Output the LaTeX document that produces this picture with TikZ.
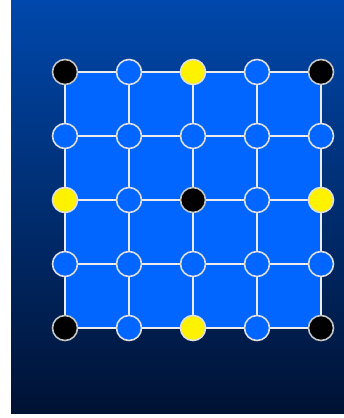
\documentclass[tikz,border=0pt]{standalone}
\begin{document}
\begin{tikzpicture}[x=1pt,y=-1pt,
  dot/.style={circle,minimum size=25pt,inner sep=0pt,line width=1.6pt,draw=gray!25},
  bluedot/.style={dot,fill=cellblue},
  blackdot/.style={dot,fill=black,draw=gray!45},
  yellowdot/.style={dot,fill=yellow},
  gridline/.style={draw=gray!15,line width=1.4pt}]
\definecolor{cellblue}{RGB}{0,102,255}
\definecolor{bgtop}{RGB}{0,72,172}
\definecolor{bgbot}{RGB}{0,18,52}
\useasboundingbox (0,0) rectangle (344,418);
\fill[white] (0,0) rectangle (344,418);
\shade[top color=bgtop,bottom color=bgbot] (11,0) rectangle (344,413);
\fill[cellblue] (65,72) rectangle (321,328);
% coordinates
\foreach \i in {0,...,4}{
  \foreach \j in {0,...,4}{
    \coordinate (c\i\j) at ({65+64*\j},{72+64*\i});
  }
}
\foreach \i in {0,...,4}{
  \draw[gridline] (c\i0) -- (c\i4);
  \draw[gridline] (c0\i) -- (c4\i);
}
% nodes
\foreach \i/\j/\s in {0/0/blackdot,0/1/bluedot,0/2/yellowdot,0/3/bluedot,0/4/blackdot,
  1/0/bluedot,1/1/bluedot,1/2/bluedot,1/3/bluedot,1/4/bluedot,
  2/0/yellowdot,2/1/bluedot,2/2/blackdot,2/3/bluedot,2/4/yellowdot,
  3/0/bluedot,3/1/bluedot,3/2/bluedot,3/3/bluedot,3/4/bluedot,
  4/0/blackdot,4/1/bluedot,4/2/yellowdot,4/3/bluedot,4/4/blackdot}{
  \node[\s] (n\i\j) at (c\i\j) {};
}
\end{tikzpicture}
\end{document}
